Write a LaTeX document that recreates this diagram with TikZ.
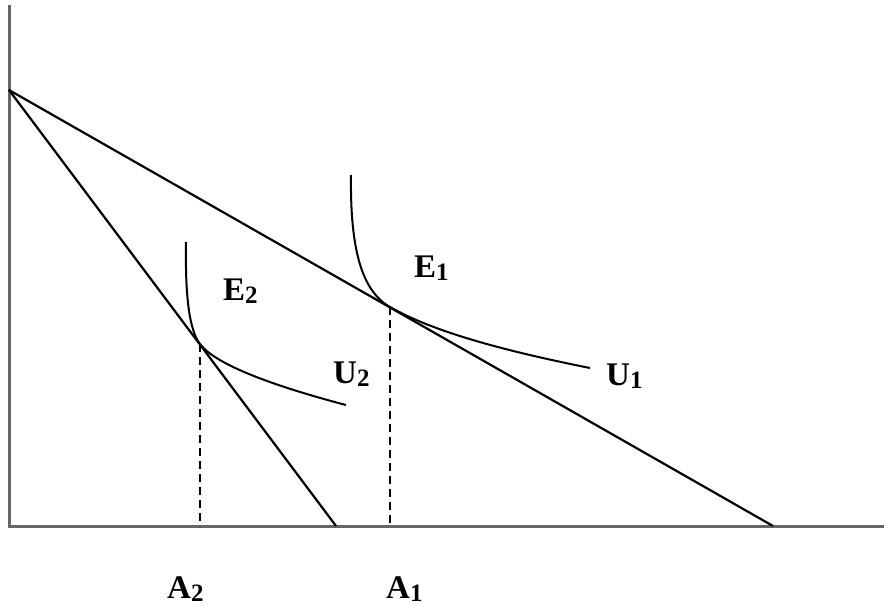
\documentclass[tikz,border=0pt]{standalone}
\usepackage{fontspec}
\setmainfont{Liberation Serif}
\newcommand{\mysub}[1]{\raisebox{-3pt}{\fontsize{25}{30}\selectfont #1}}
\begin{document}
\begin{tikzpicture}[x=1pt,y=-1pt,
  axis/.style={draw=black!60,line width=3pt},
  budget/.style={draw=black,line width=2.2pt},
  indiff/.style={draw=black,line width=2pt},
  guide/.style={draw=black,line width=2.2pt,dash pattern=on 8pt off 5pt},
  lbl/.style={anchor=base west,inner sep=0pt,font=\fontsize{33}{40}\selectfont\bfseries}]
\useasboundingbox (0,0) rectangle (884,607);
% axes
\coordinate (O) at (9,526);
\coordinate (Ytop) at (9,5);
\coordinate (Xend) at (884,526);
\draw[axis] (Ytop) -- (O) -- (Xend);
% budget lines
\coordinate (P) at (9,90);
\coordinate (B1) at (773,526);
\coordinate (B2) at (336,526);
\draw[budget] (P) -- (B1);
\draw[budget] (P) -- (B2);
% tangency points
\coordinate (E1p) at (390,307);
\coordinate (E2p) at (200,344);
\coordinate (F1) at (390,526);
\coordinate (F2) at (200,526);
% indifference curves
\coordinate (U1s) at (351,175);
\coordinate (U1e) at (590,368);
\coordinate (U2s) at (186,242);
\coordinate (U2e) at (346,405);
\draw[indiff] (U1s) .. controls (350,250) and (362,291) .. (E1p)
  .. controls (432,331) and (500,350) .. (U1e);
\draw[indiff] (U2s) .. controls (185,300) and (190,331) .. (E2p)
  .. controls (215,364) and (270,385) .. (U2e);
% dashed guides
\draw[guide] (E1p) -- (F1);
\draw[guide] (E2p) -- (F2);
% labels
\node[lbl] (lE1) at (414,277) {E\mysub{1}};
\node[lbl] (lE2) at (223,300) {E\mysub{2}};
\node[lbl] (lU1) at (606,385) {U\mysub{1}};
\node[lbl] (lU2) at (333,383) {U\mysub{2}};
\node[lbl] (lA2) at (167,598) {A\mysub{2}};
\node[lbl] (lA1) at (386,598) {A\mysub{1}};
\end{tikzpicture}
\end{document}
